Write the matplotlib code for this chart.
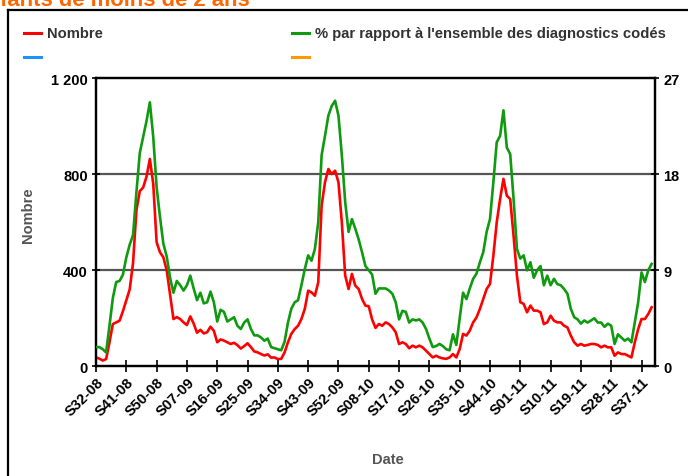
import numpy as np
import matplotlib
matplotlib.use("Agg")
import matplotlib.pyplot as plt
from matplotlib.lines import Line2D

plt.rcParams['font.family'] = ['Liberation Sans', 'DejaVu Sans']

# weekly series, S32-08 .. S40-11
nombre = [37, 32, 24, 30, 100, 176, 183, 190, 230, 275,
          320, 430, 650, 730, 745, 790, 864, 760, 517, 475,
          454, 400, 300, 197, 205, 197, 183, 172, 208, 178,
          140, 152, 137, 142, 165, 148, 100, 112, 107, 100,
          93, 98, 88, 74, 84, 96, 80, 62, 58, 51,
          45, 50, 36, 37, 30, 31, 58, 100, 135, 155,
          169, 197, 239, 315, 308, 294, 350, 670, 767, 822,
          801, 815, 767, 600, 378, 322, 385, 336, 322, 281,
          253, 250, 195, 160, 176, 169, 183, 176, 162, 142,
          93, 100, 93, 75, 86, 79, 86, 79, 65, 51,
          37, 44, 37, 33, 31, 37, 51, 37, 72, 135,
          128, 149, 183, 204, 239, 281, 322, 343, 461, 600,
          697, 781, 711, 697, 544, 378, 267, 260, 225, 253,
          232, 232, 225, 176, 183, 211, 190, 183, 183, 169,
          162, 128, 100, 86, 93, 86, 89, 93, 93, 89,
          79, 86, 79, 79, 44, 58, 51, 51, 44, 37,
          100, 155, 197, 197, 218, 246]

pourcent = [1.8, 1.8, 1.6, 1.3, 3.8, 6.4, 7.9, 8.0, 8.6, 10.2,
            11.4, 12.3, 16.3, 20.0, 21.5, 23.0, 24.75, 21.5, 16.8, 14.0,
            11.5, 10.3, 8.3, 6.9, 8.0, 7.6, 7.1, 7.6, 8.5, 7.3,
            6.2, 6.9, 5.9, 6.0, 7.0, 6.0, 4.2, 5.3, 5.1, 4.2,
            4.4, 4.6, 3.8, 3.5, 4.1, 4.4, 3.5, 2.9, 2.9, 2.7,
            2.4, 2.6, 1.8, 1.7, 1.6, 1.5, 2.3, 4.1, 5.4, 6.0,
            6.2, 7.6, 9.1, 10.4, 9.9, 11.0, 13.5, 19.8, 21.6, 23.5,
            24.4, 24.9, 23.5, 19.8, 15.4, 12.6, 13.8, 12.9, 11.9, 10.7,
            9.4, 9.0, 8.6, 6.8, 7.3, 7.3, 7.3, 7.1, 6.8, 6.0,
            4.4, 5.2, 5.1, 4.1, 4.4, 4.3, 4.4, 4.1, 3.5, 2.6,
            1.8, 1.9, 2.1, 1.9, 1.6, 1.5, 3.0, 2.0, 4.5, 6.9,
            6.3, 7.3, 8.2, 8.7, 9.75, 10.7, 12.6, 13.8, 17.25, 21.0,
            21.6, 24.0, 20.5, 19.9, 15.7, 11.0, 10.1, 10.4, 9.0, 9.75,
            8.3, 9.0, 9.4, 7.6, 8.5, 7.6, 8.2, 7.7, 7.6, 7.25,
            6.8, 5.4, 4.6, 4.4, 4.0, 4.3, 4.1, 4.3, 4.5, 4.1,
            4.1, 3.7, 4.0, 3.8, 2.1, 3.0, 2.7, 2.4, 2.6, 2.25,
            4.1, 6.0, 8.8, 7.9, 9.0, 9.6]

week_labels = ['S32-08', 'S41-08', 'S50-08', 'S07-09', 'S16-09', 'S25-09',
               'S34-09', 'S43-09', 'S52-09', 'S08-10', 'S17-10', 'S26-10',
               'S35-10', 'S44-10', 'S01-11', 'S10-11', 'S19-11', 'S28-11',
               'S37-11']
left_ticks = [0, 400, 800, 1200]
left_labels = ['0', '400', '800', '1 200']
right_ticks = [0, 9, 18, 27]

W, H = 688, 477
fig = plt.figure(figsize=(W / 100, H / 100), dpi=100)

def fx(px):
    return px / W

def fy(py):
    return 1 - py / H

# outer frame (only left and top visible)
fig.add_artist(Line2D([fx(7.5), fx(7.5)], [fy(11), 0], color='black', lw=1.6, transform=fig.transFigure))
fig.add_artist(Line2D([fx(7.5), 1], [fy(11), fy(11)], color='black', lw=1.6, transform=fig.transFigure))

# cut title
fig.text(fx(0), fy(5.5), 'fants de moins de 2 ans', color='#ff6600', fontsize=15.8,
         fontweight='bold', va='baseline', ha='left')

# legend
leg = [('#ff0000', 'Nombre', 24, 34), ('#1e90ff', '', 24, 58),
       ('#109a10', "% par rapport à l'ensemble des diagnostics codés", 292, 34),
       ('#ff9900', '', 292, 58)]
for col, lab, x0, y0 in leg:
    fig.add_artist(Line2D([fx(x0), fx(x0 + 17)], [fy(y0), fy(y0)], color=col, lw=2.2,
                          transform=fig.transFigure))
    if lab:
        fig.text(fx(x0 + 23), fy(y0), lab, color='#333333', fontsize=10.6, fontweight='bold',
                 va='center', ha='left')

ax = fig.add_axes([fx(96), fy(367.3), fx(655) - fx(96), fy(79.3) - fy(367.3)])
ax2 = ax.twinx()

x = np.arange(len(nombre))
ax.plot(x, nombre, color='#ff0000', lw=1.9, zorder=3)
ax2.plot(x, pourcent, color='#109a10', lw=1.9, zorder=3)

ax.set_xlim(0, 166)
ax.set_ylim(0, 1200)
ax2.set_ylim(0, 27)

for y in [400, 800]:
    ax.axhline(y, color='#555555', lw=1.6, zorder=1)

ax.set_yticks(left_ticks)
ax.set_yticklabels(left_labels, fontsize=10.5, fontweight='bold')
ax2.set_yticks(right_ticks)
ax2.set_yticklabels([str(t) for t in right_ticks], fontsize=10.5, fontweight='bold')

ax.set_xticks(np.arange(len(week_labels)) * 9)
ax.set_xticklabels(week_labels, rotation=45, ha='right', va='top', rotation_mode='anchor',
                   fontsize=10.5, fontweight='bold')

for a in (ax, ax2):
    for s in a.spines.values():
        s.set_linewidth(1.6)
        s.set_color('black')
ax.tick_params(axis='x', direction='inout', length=8, width=1.2, pad=2)
ax.tick_params(axis='y', direction='inout', length=6, width=1.2, pad=3)
ax2.tick_params(axis='y', direction='inout', length=6, width=1.2, pad=3)

fig.text(fx(28), fy(215), 'Nombre', rotation=90, color='#555555', fontsize=10.5,
         fontweight='bold', ha='center', va='center')
fig.text(fx(388), fy(460), 'Date', color='#555555', fontsize=10.5,
         fontweight='bold', ha='center', va='center')

fig.savefig('out.png', dpi=100)
